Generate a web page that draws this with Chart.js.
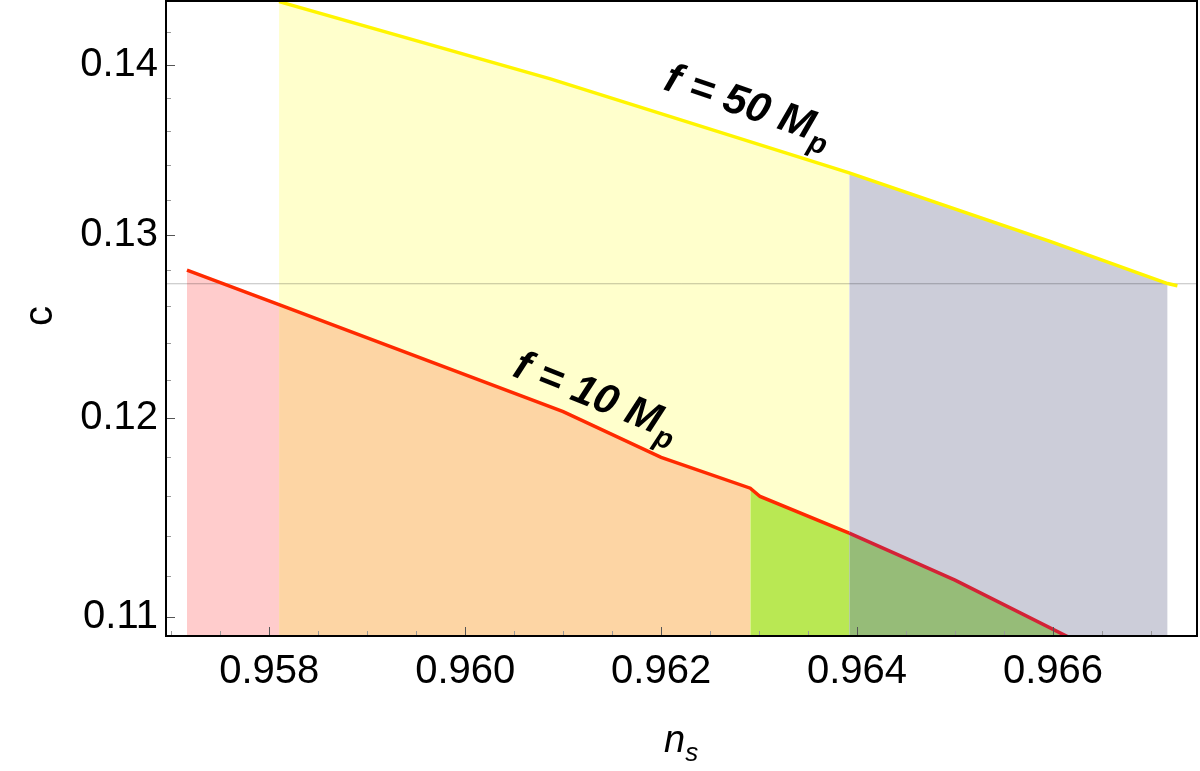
<!DOCTYPE html>
<html>
<head>
<meta charset="utf-8">
<script src="https://cdn.jsdelivr.net/npm/chart.js@4.4.1/dist/chart.umd.min.js"></script>
<style>
    html, body { margin: 0; padding: 0; background: #fff; }
</style>
</head>
<body>
<canvas id="chart" width="1200" height="771"></canvas>
<script>
// f = 10 Mp curve
const nsTen = [0.95716, 0.9581, 0.9610, 0.9620, 0.96291, 0.96301, 0.96392, 0.9650, 0.96617];
const cTen = [0.1280, 0.12609, 0.12033, 0.11796, 0.11638, 0.11596, 0.11412, 0.1118, 0.10903];

// f = 50 Mp curve
const nsFifty = [0.9581, 0.96087, 0.96392, 0.96597, 0.96717, 0.96727];
const cFifty = [0.14391, 0.13914, 0.13355, 0.12962, 0.12725, 0.12713];

// where the shaded bands change colour (n_s)
const pinkFrom = 0.95716;
const bandFrom = 0.9581;
const greenFrom = 0.96291;
const greyFrom = 0.96392;
const greyTo = 0.96717;

// thin horizontal line
const refC = 0.12724;

const xTicks = [0.958, 0.960, 0.962, 0.964, 0.966];
const xMinor = [0.9570, 0.9575, 0.9585, 0.9590, 0.9595, 0.9605, 0.9610, 0.9615, 0.9625, 0.9630, 0.9635, 0.9645, 0.9650, 0.9655, 0.9665, 0.9670];
const yTicks = [0.11, 0.12, 0.13, 0.14];
const yMinor = [0.112, 0.114, 0.116, 0.118, 0.122, 0.124, 0.126, 0.128, 0.132, 0.134, 0.136, 0.138, 0.142];

const xMin = 0.956946, xMax = 0.96747;
const yMin = 0.10911, yMax = 0.14395;

const FONT = "'Liberation Sans', Arial, Helvetica, sans-serif";

const pts = (xs, ys) => xs.map((x, i) => ({ x: x, y: ys[i] }));
const slice = (xs, ys, a, b) => pts(xs, ys).filter(p => p.x >= a - 1e-9 && p.x <= b + 1e-9);

function area(data, color, order) {
    return {
        data: data,
        backgroundColor: color,
        borderWidth: 0,
        pointRadius: 0,
        fill: 'start',
        order: order || 8,
        clip: 0
    };
}

const curveLabels = [
    { text: 'f = 50 M', sub: 'p', x: 0.96289, y: 0.13763, angle: 19 },
    { text: 'f = 10 M', sub: 'p', x: 0.96134, y: 0.12121, angle: 22 }
];

const decorations = {
    id: 'decorations',
    afterDatasetsDraw(chart) {
        const ctx = chart.ctx;
        const xs = chart.scales.x, ys = chart.scales.y;
        const area = chart.chartArea;

        // inward ticks like Mathematica's frame ticks
        ctx.save();
        ctx.lineWidth = 1;
        const xtick = (vals, len, color) => {
            ctx.strokeStyle = color;
            vals.forEach(v => {
                const px = Math.round(xs.getPixelForValue(v)) + 0.5;
                ctx.beginPath();
                ctx.moveTo(px, area.bottom);
                ctx.lineTo(px, area.bottom - len);
                ctx.stroke();
            });
        };
        const ytick = (vals, len, color) => {
            ctx.strokeStyle = color;
            vals.forEach(v => {
                const py = Math.round(ys.getPixelForValue(v)) + 0.5;
                ctx.beginPath();
                ctx.moveTo(area.left, py);
                ctx.lineTo(area.left + len, py);
                ctx.stroke();
            });
        };
        xtick(xMinor, 5, '#999');
        xtick(xTicks, 9, '#555');
        ytick(yMinor, 5, '#999');
        ytick(yTicks, 9, '#555');

        // labels along the curves
        curveLabels.forEach(l => {
            const px = xs.getPixelForValue(l.x);
            const py = ys.getPixelForValue(l.y);
            ctx.save();
            ctx.translate(px, py);
            ctx.rotate(l.angle * Math.PI / 180);
            ctx.fillStyle = '#000';
            ctx.textBaseline = 'alphabetic';
            ctx.font = 'italic bold 42px ' + FONT;
            const w1 = ctx.measureText(l.text).width;
            ctx.font = 'italic bold 29px ' + FONT;
            const w2 = ctx.measureText(l.sub).width;
            const x0 = -(w1 + w2) / 2;
            ctx.font = 'italic bold 42px ' + FONT;
            ctx.fillText(l.text, x0, 14);
            ctx.font = 'italic bold 29px ' + FONT;
            ctx.fillText(l.sub, x0 + w1 + 1, 24);
            ctx.restore();
        });
        ctx.restore();
    },
    afterDraw(chart) {
        const ctx = chart.ctx;
        const area = chart.chartArea;
        ctx.save();
        ctx.strokeStyle = '#000';
        ctx.lineWidth = 2;
        ctx.strokeRect(area.left, area.top, area.right - area.left, area.bottom - area.top);

        // axis titles
        ctx.fillStyle = '#000';
        ctx.textAlign = 'center';
        ctx.textBaseline = 'middle';
        ctx.font = '40px ' + FONT;
        ctx.save();
        ctx.translate(41, 316);
        ctx.rotate(-Math.PI / 2);
        ctx.fillText('c', 0, 0);
        ctx.restore();

        ctx.textAlign = 'left';
        ctx.textBaseline = 'alphabetic';
        ctx.font = 'italic 38px ' + FONT;
        const wn = ctx.measureText('n').width;
        ctx.fillText('n', 664, 752);
        ctx.font = 'italic 26px ' + FONT;
        ctx.fillText('s', 664 + wn, 761);
        ctx.restore();
    }
};

new Chart(document.getElementById('chart'), {
    type: 'line',
    data: {
        datasets: [
            // bands under the f = 50 curve
            area(slice(nsFifty, cFifty, bandFrom, greyFrom), '#ffffcc', 10),
            area(slice(nsFifty, cFifty, greyFrom, greyTo), '#cccdd9', 10),
            // bands under the f = 10 curve
            area(slice(nsTen, cTen, pinkFrom, bandFrom), '#ffcccc'),
            area(slice(nsTen, cTen, bandFrom, greenFrom), '#fdd5a4'),
            area(slice(nsTen, cTen, greenFrom, greyFrom), '#b9e853'),
            area(slice(nsTen, cTen, greyFrom, 1), '#96bc78'),
            {
                data: [{ x: xMin, y: refC }, { x: xMax, y: refC }],
                borderColor: 'rgba(0,0,0,0.25)',
                borderWidth: 1,
                pointRadius: 0,
                fill: false,
                order: 6,
                clip: 0
            },
            {
                data: pts(nsFifty, cFifty),
                borderColor: '#fff500',
                borderWidth: 3.5,
                pointRadius: 0,
                fill: false,
                order: 4,
                clip: 0
            },
            {
                data: pts(nsTen, cTen),
                borderColor: '#ff2a00',
                borderWidth: 3.5,
                pointRadius: 0,
                fill: false,
                order: 2,
                clip: 0,
                segment: {
                    borderColor: c => c.p0.parsed.x >= greyFrom - 1e-9 ? '#d42236' : '#ff2a00'
                }
            }
        ]
    },
    options: {
        responsive: false,
        animation: false,
        devicePixelRatio: 1,
        layout: { padding: { top: 1, right: 3, left: 0, bottom: 0 } },
        plugins: { legend: { display: false }, tooltip: { enabled: false } },
        scales: {
            x: {
                type: 'linear',
                min: xMin,
                max: xMax,
                bounds: 'data',
                afterBuildTicks: s => { s.ticks = xTicks.map(v => ({ value: v })); },
                afterFit: s => { s.height = 135; s.paddingLeft = 0; s.paddingRight = 0; },
                grid: { display: false, drawTicks: false },
                border: { display: false },
                ticks: {
                    font: { family: FONT, size: 40 },
                    color: '#000',
                    padding: 12,
                    maxRotation: 0,
                    autoSkip: false,
                    callback: v => v.toFixed(3)
                }
            },
            y: {
                type: 'logarithmic',
                min: yMin,
                max: yMax,
                bounds: 'data',
                afterBuildTicks: s => { s.ticks = yTicks.map(v => ({ value: v })); },
                afterFit: s => { s.width = 166; s.paddingTop = 0; s.paddingBottom = 0; },
                grid: { display: false, drawTicks: false },
                border: { display: false },
                ticks: {
                    font: { family: FONT, size: 40 },
                    color: '#000',
                    padding: 8,
                    autoSkip: false,
                    callback: v => v.toFixed(2)
                }
            }
        }
    },
    plugins: [decorations]
});
</script>
</body>
</html>
